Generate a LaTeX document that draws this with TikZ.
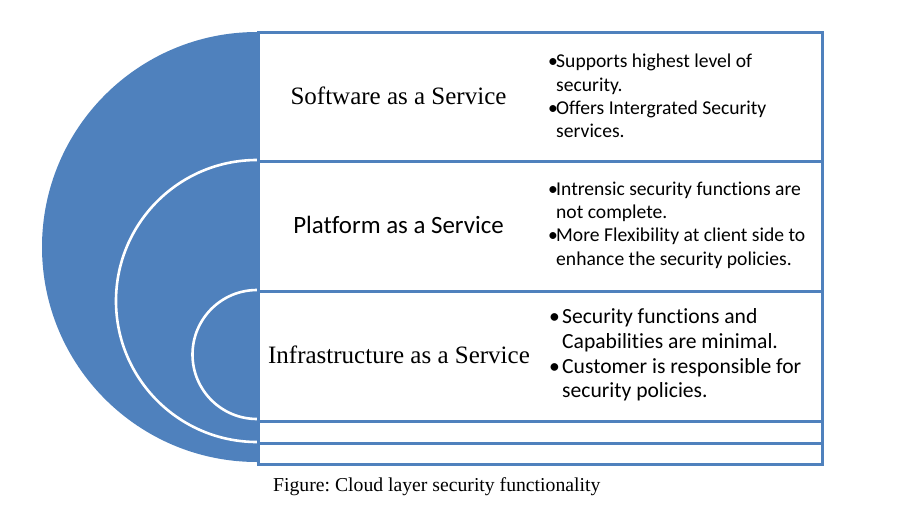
\documentclass[tikz,border=0pt]{standalone}
\usepackage{fontspec}
\setmainfont{Liberation Serif}
\newfontfamily\calibrifont[Ligatures=NoCommon]{Carlito}
\definecolor{offblue}{HTML}{4F81BD}
\frenchspacing
\begin{document}
\begin{tikzpicture}[x=1pt,y=-1pt,
  layerbox/.style={draw=offblue, line width=2.6pt, fill=white, inner sep=0pt, anchor=north west},
  title/.style={inner sep=0pt, anchor=center},
  bullets/.style={inner sep=0pt, anchor=west, align=left, font=\calibrifont\fontsize{19.6}{23.4}\selectfont},
  ring/.style={draw=white, line width=2.6pt}]
\useasboundingbox (0,0) rectangle (898,520);
% half disc
\fill[offblue] (257,32) arc[start angle=270, end angle=90, radius=215] -- cycle;
\draw[ring] (257,160) arc[start angle=270, end angle=90, radius=141];
\draw[ring] (257,290) arc[start angle=270, end angle=90, radius=64.5];
% boxes
\node[layerbox, minimum width=564pt, minimum height=129pt] (saas) at (257,31) {};
\node[layerbox, minimum width=564pt, minimum height=130pt] (paas) at (257,160) {};
\node[layerbox, minimum width=564pt, minimum height=130pt] (iaas) at (257,290) {};
\node[layerbox, minimum width=564pt, minimum height=22pt] (e1) at (257,420) {};
\node[layerbox, minimum width=564pt, minimum height=21pt] (e2) at (257,442) {};
% titles
\node[title, font=\fontsize{25}{30}\selectfont] (ts) at (398.5,96) {Software as a Service};
\node[title, font=\calibrifont\fontsize{24.9}{30}\selectfont] (tp) at (398.5,225) {Platform as a Service};
\node[title, font=\fontsize{25}{30}\selectfont] (ti) at (399,355) {Infrastructure as a Service};
% bullets
\node[bullets] (bs) at (548,96) {\makebox[8pt][l]{•}Supports highest level of\\
\hspace*{8pt}security.\\
\makebox[8pt][l]{•}Offers Intergrated Security\\
\hspace*{8pt}services.};
\node[bullets] (bp) at (548,225) {\makebox[8pt][l]{•}Intrensic security functions are\\
\hspace*{8pt}not complete.\\
\makebox[8pt][l]{•}More Flexibility at client side to\\
\hspace*{8pt}enhance the security policies.};
\node[bullets, font=\calibrifont\fontsize{21.6}{24.6}\selectfont] (bi) at (549,355) {\makebox[13pt][l]{•}Security functions and\\
\hspace*{13pt}Capabilities are minimal.\\
\makebox[13pt][l]{•}Customer is responsible for\\
\hspace*{13pt}security policies.};
% caption
\node[inner sep=0pt, anchor=west, font=\fontsize{19.7}{24}\selectfont] (cap) at (273,487) {Figure: Cloud layer security functionality};
\end{tikzpicture}
\end{document}
